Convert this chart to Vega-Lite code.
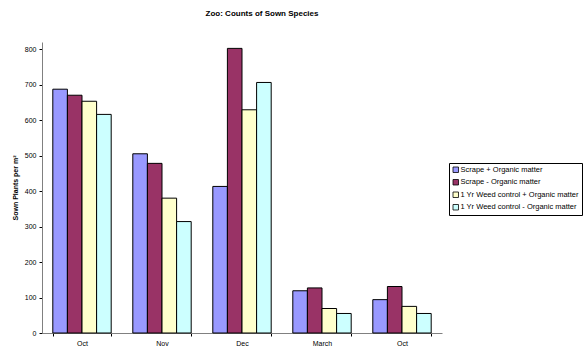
{
  "$schema": "https://vega.github.io/schema/vega-lite/v6.json",
  "width": 400,
  "height": 291,
  "autosize": "none",
  "padding": {"left": 42, "top": 42, "right": 145, "bottom": 14},
  "background": "white",
  "title": {"text": "Zoo: Counts of Sown Species", "fontSize": 8, "font": "Liberation Sans", "fontWeight": "bold", "color": "black", "anchor": "middle", "dx": 20, "offset": 24},
  "data": {"values": [
    {"period": "Oct-1", "treatment": "Scrape + Organic matter", "value": 687},
    {"period": "Oct-1", "treatment": "Scrape - Organic matter", "value": 670},
    {"period": "Oct-1", "treatment": "1 Yr Weed control + Organic matter", "value": 653},
    {"period": "Oct-1", "treatment": "1 Yr Weed control - Organic matter", "value": 616},
    {"period": "Nov", "treatment": "Scrape + Organic matter", "value": 505},
    {"period": "Nov", "treatment": "Scrape - Organic matter", "value": 478},
    {"period": "Nov", "treatment": "1 Yr Weed control + Organic matter", "value": 380},
    {"period": "Nov", "treatment": "1 Yr Weed control - Organic matter", "value": 314},
    {"period": "Dec", "treatment": "Scrape + Organic matter", "value": 413},
    {"period": "Dec", "treatment": "Scrape - Organic matter", "value": 802},
    {"period": "Dec", "treatment": "1 Yr Weed control + Organic matter", "value": 629},
    {"period": "Dec", "treatment": "1 Yr Weed control - Organic matter", "value": 706},
    {"period": "March", "treatment": "Scrape + Organic matter", "value": 119},
    {"period": "March", "treatment": "Scrape - Organic matter", "value": 127},
    {"period": "March", "treatment": "1 Yr Weed control + Organic matter", "value": 69},
    {"period": "March", "treatment": "1 Yr Weed control - Organic matter", "value": 55},
    {"period": "Oct-2", "treatment": "Scrape + Organic matter", "value": 94},
    {"period": "Oct-2", "treatment": "Scrape - Organic matter", "value": 131},
    {"period": "Oct-2", "treatment": "1 Yr Weed control + Organic matter", "value": 75},
    {"period": "Oct-2", "treatment": "1 Yr Weed control - Organic matter", "value": 55}
  ]},
  "mark": {"type": "bar", "stroke": "black", "strokeWidth": 1, "opacity": 1},
  "encoding": {
    "x": {
      "field": "period", "type": "nominal",
      "sort": ["Oct-1", "Nov", "Dec", "March", "Oct-2"],
      "scale": {"paddingInner": 0.27, "paddingOuter": 0.135},
      "axis": {"title": null, "labelAngle": 0, "labelExpr": "split(datum.label, '-')[0]", "labelFont": "Liberation Sans", "labelFontSize": 7, "labelColor": "black", "domainColor": "#808080", "tickColor": "black", "tickBand": "extent", "tickSize": 3, "labelPadding": 3}
    },
    "xOffset": {"field": "treatment", "type": "nominal", "sort": ["Scrape + Organic matter", "Scrape - Organic matter", "1 Yr Weed control + Organic matter", "1 Yr Weed control - Organic matter"], "scale": {"paddingInner": 0, "paddingOuter": 0}},
    "y": {
      "field": "value", "type": "quantitative",
      "scale": {"domain": [0, 820], "nice": false},
      "axis": {"title": "Sown Plants per m²", "titleFont": "Liberation Sans", "titleFontSize": 7, "titleFontWeight": "bold", "titleColor": "black", "titlePadding": 6, "values": [0, 100, 200, 300, 400, 500, 600, 700, 800], "grid": false, "labelFont": "Liberation Sans", "labelFontSize": 7, "labelColor": "black", "domainColor": "#808080", "tickColor": "black", "tickSize": 3, "labelPadding": 3}
    },
    "color": {
      "field": "treatment", "type": "nominal",
      "sort": ["Scrape + Organic matter", "Scrape - Organic matter", "1 Yr Weed control + Organic matter", "1 Yr Weed control - Organic matter"],
      "scale": {"range": ["#9999FF", "#993366", "#FFFFCC", "#CCFFFF"]},
      "legend": {"title": null, "orient": "none", "legendX": 407, "legendY": 121, "labelFont": "Liberation Sans", "labelFontSize": 7.5, "labelColor": "black", "symbolType": "square", "symbolSize": 30, "symbolStrokeColor": "black", "symbolStrokeWidth": 0.8, "symbolOpacity": 1, "rowPadding": 2.5, "labelOffset": 1, "strokeColor": "black", "cornerRadius": 0, "padding": 3, "fillColor": "white"}
    }
  },
  "config": {"view": {"stroke": null}}
}
